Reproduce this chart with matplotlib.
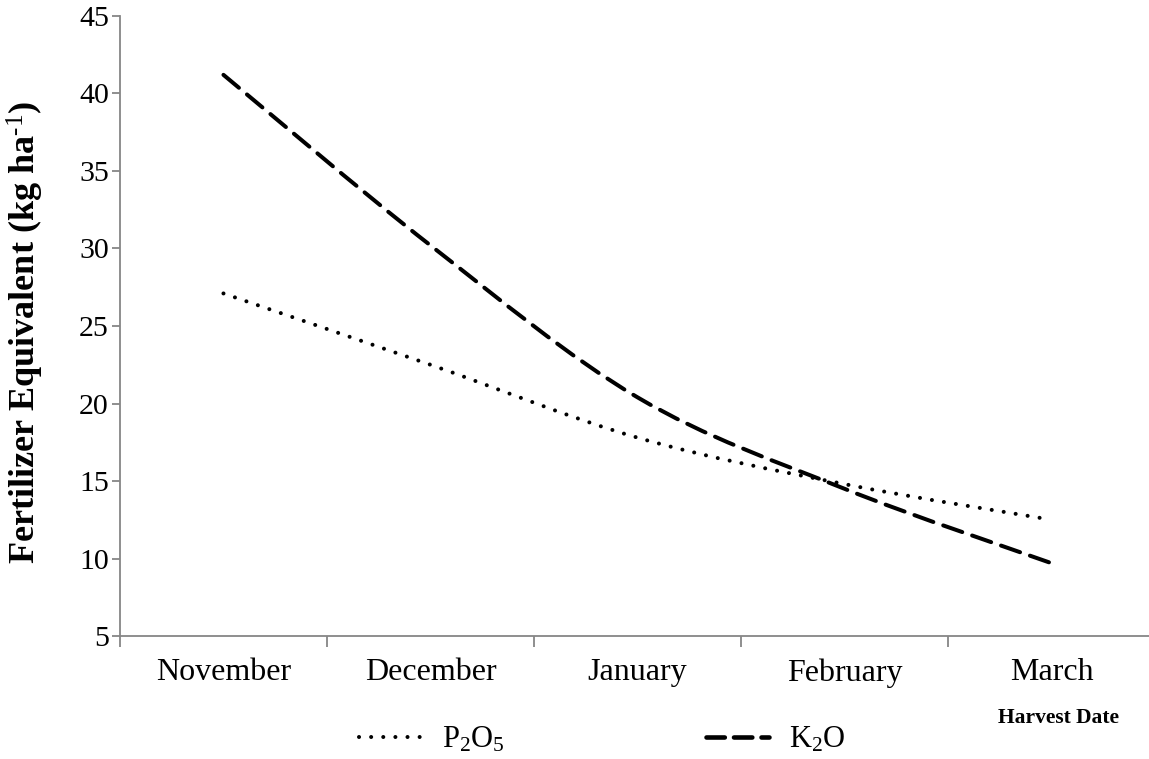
import matplotlib
matplotlib.use("Agg")
import matplotlib.pyplot as plt
from matplotlib.path import Path
from matplotlib.patches import PathPatch
from matplotlib.lines import Line2D

plt.rcParams['font.family'] = ['Liberation Serif', 'DejaVu Serif']
plt.rcParams['mathtext.fontset'] = 'custom'
plt.rcParams['mathtext.rm'] = 'Liberation Serif'
plt.rcParams['mathtext.bf'] = 'Liberation Serif:bold'
plt.rcParams['mathtext.default'] = 'regular'

months = ['November', 'December', 'January', 'February', 'March']
p2o5 = [27.1, 22.5, 17.8, 14.8, 12.5]
k2o = [41.2, 30.2, 20.4, 14.5, 9.7]


def smooth_path(ys, t=1/6):
    # excel-style smoothed line: cubic bezier through the points (catmull-rom)
    xs = list(range(len(ys)))
    pts = list(zip(xs, ys))
    verts = [pts[0]]
    codes = [Path.MOVETO]
    for i in range(len(pts) - 1):
        p0 = pts[i - 1] if i > 0 else pts[i]
        p1 = pts[i]
        p2 = pts[i + 1]
        p3 = pts[i + 2] if i + 2 < len(pts) else pts[i + 1]
        c1 = (p1[0] + (p2[0] - p0[0]) * t, p1[1] + (p2[1] - p0[1]) * t)
        c2 = (p2[0] - (p3[0] - p1[0]) * t, p2[1] - (p3[1] - p1[1]) * t)
        verts += [c1, c2, p2]
        codes += [Path.CURVE4] * 3
    return Path(verts, codes)


fig = plt.figure(figsize=(11.49, 7.59), dpi=100)
ax = fig.add_axes([0.1044, 0.162, 0.9008, 0.817])

lw = 2.9
dotted = (0, (0.01, 3))
dashed = (0, (5, 2.6))

ax.add_patch(PathPatch(smooth_path(p2o5), fill=False, lw=lw, color='black',
                       capstyle='round', linestyle=dotted))
ax.add_patch(PathPatch(smooth_path(k2o), fill=False, lw=lw, color='black',
                       capstyle='round', linestyle=dashed))

ax.set_xlim(-0.5, 4.5)
ax.set_ylim(5, 45)
ax.set_yticks(range(5, 50, 5))
ax.set_xticks(range(len(months)))
ax.set_xticklabels(months)
ax.set_xticks([i - 0.5 for i in range(len(months) + 1)], minor=True)
ax.tick_params(axis='x', which='major', length=0, pad=16, labelsize=23)
ax.tick_params(axis='x', which='minor', length=8, width=1.3, color='#868686')
ax.tick_params(axis='y', length=6, width=1.3, color='#868686', labelsize=21.5, pad=2)

for s in ['top', 'right']:
    ax.spines[s].set_visible(False)
for s in ['left', 'bottom']:
    ax.spines[s].set_color('#868686')
    ax.spines[s].set_linewidth(1.3)

ax.set_ylabel(r'Fertilizer Equivalent (kg ha$^{\text{-1}}$)', fontsize=26, fontweight='bold')
ax.yaxis.set_label_coords(-0.071, 0.49)

fig.text(0.921, 0.054, 'Harvest Date', fontsize=15.5, fontweight='bold', ha='center', va='center')

handles = [Line2D([], [], color='black', lw=lw, linestyle=dotted, dash_capstyle='round'),
           Line2D([], [], color='black', lw=3.3, linestyle=(0, (4, 2)), dash_capstyle='round')]
fig.legend(handles, ['P$_2$O$_5$', 'K$_2$O'], loc='center', bbox_to_anchor=(0.524, 0.025),
           ncol=2, frameon=False, fontsize=22, handlelength=2.05, columnspacing=6.6, handletextpad=0.65)

fig.savefig('out.png', dpi=100)
